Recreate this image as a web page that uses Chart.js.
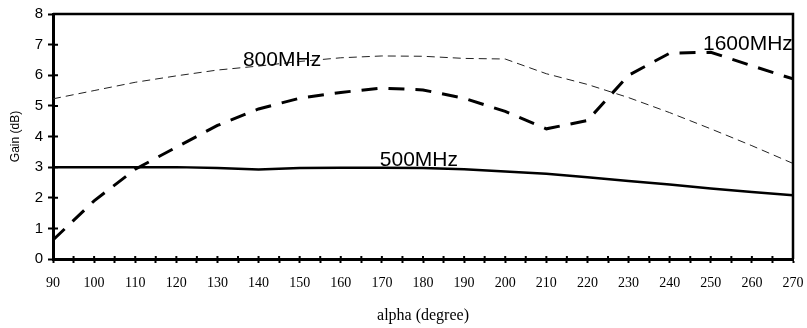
<!DOCTYPE html>
<html>
<head>
<meta charset="utf-8">
<script src="https://cdn.jsdelivr.net/npm/chart.js@4"></script>
<style>
  html, body { margin: 0; padding: 0; background: #fff; }
  #box { width: 807px; height: 328px; }
</style>
</head>
<body>
<div id="box"><canvas id="myChart"></canvas></div>
<script>
// angle en degrés
const angles = [90, 100, 110, 120, 130, 140, 150, 160, 170, 180, 190, 200, 210, 220, 230, 240, 250, 260, 270];

// gain (dB) pour chaque fréquence
const gain500 = [3.0, 3.0, 3.0, 3.0, 2.97, 2.92, 2.97, 2.98, 2.98, 2.97, 2.93, 2.86, 2.78, 2.67, 2.55, 2.43, 2.3, 2.19, 2.08];
const gain800 = [5.23, 5.5, 5.77, 5.98, 6.17, 6.3, 6.45, 6.57, 6.63, 6.62, 6.55, 6.53, 6.05, 5.7, 5.27, 4.78, 4.25, 3.7, 3.12];
const gain1600 = [0.62, 1.9, 2.93, 3.65, 4.36, 4.9, 5.25, 5.44, 5.58, 5.52, 5.25, 4.82, 4.25, 4.52, 6.0, 6.72, 6.75, 6.31, 5.88];

const seriesNames = ['500MHz', '800MHz', '1600MHz'];

// où écrire le nom de chaque courbe (angle, gain)
const nameSpots = [
    { text: '500MHz', x: 169.5, y: 3.22 },
    { text: '800MHz', x: 136.2, y: 6.5 },
    { text: '1600MHz', x: 248.1, y: 7.0 }
];

function points(values) {
    return angles.map((a, i) => ({ x: a, y: values[i] }));
}

// cadre haut/droite + petits traits de graduation vers l'intérieur
const cadre = {
    id: 'cadre',
    afterDraw(chart) {
        const { ctx, chartArea: a, scales } = chart;
        ctx.save();
        ctx.strokeStyle = '#000';
        ctx.lineWidth = 2.5;
        ctx.beginPath();
        ctx.moveTo(a.left, a.top);
        ctx.lineTo(a.right, a.top);
        ctx.lineTo(a.right, a.bottom);
        ctx.stroke();

        ctx.lineWidth = 2;
        ctx.beginPath();
        scales.y.ticks.forEach(t => {
            const py = scales.y.getPixelForValue(t.value);
            ctx.moveTo(a.left, py);
            ctx.lineTo(a.left + 5, py);
        });
        scales.x.ticks.forEach(t => {
            const px = scales.x.getPixelForValue(t.value);
            ctx.moveTo(px, a.bottom);
            ctx.lineTo(px, a.bottom - 3);
        });
        ctx.stroke();
        ctx.restore();
    }
};

// noms des courbes écrits sur le graphique
const nomsCourbes = {
    id: 'nomsCourbes',
    afterDatasetsDraw(chart) {
        const { ctx, scales } = chart;
        ctx.save();
        ctx.fillStyle = '#000';
        ctx.font = '21px "Liberation Sans", Arial, sans-serif';
        ctx.textAlign = 'left';
        ctx.textBaseline = 'middle';
        nameSpots.forEach(s => {
            ctx.fillText(s.text, scales.x.getPixelForValue(s.x), scales.y.getPixelForValue(s.y));
        });
        ctx.restore();
    }
};

const graph = document.getElementById('myChart');

const myChart = new Chart(graph, {
    type: 'line',
    data: {
        datasets: [{
            label: seriesNames[0],
            data: points(gain500),
            borderColor: '#000',
            borderWidth: 2.5,
            pointRadius: 0,
            tension: 0,
            fill: false
        }, {
            label: seriesNames[1],
            data: points(gain800),
            borderColor: '#222',
            borderWidth: 1,
            borderDash: [8, 5],
            pointRadius: 0,
            tension: 0,
            fill: false
        }, {
            label: seriesNames[2],
            data: points(gain1600),
            borderColor: '#000',
            borderWidth: 3,
            borderDash: [16, 11],
            pointRadius: 0,
            tension: 0,
            fill: false
        }]
    },
    options: {
        responsive: true,
        maintainAspectRatio: false,
        animation: false,
        layout: { padding: { top: 13, right: 14, left: 0, bottom: 0 } },
        plugins: {
            legend: { display: false },
            tooltip: { enabled: false }
        },
        scales: {
            x: {
                type: 'linear',
                min: 90,
                max: 270,
                ticks: {
                    stepSize: 5,
                    autoSkip: false,
                    maxRotation: 0,
                    callback: v => (v % 10 === 0 ? v : ''),
                    color: '#000',
                    padding: 12,
                    font: { family: '"Liberation Serif", "Times New Roman", serif', size: 14 }
                },
                grid: { drawOnChartArea: false, tickLength: 4, tickWidth: 2, tickColor: '#000' },
                border: { width: 3, color: '#000' },
                title: {
                    display: true,
                    text: 'alpha (degree)',
                    color: '#000',
                    padding: { top: 0, bottom: 3 },
                    font: { family: '"Liberation Serif", "Times New Roman", serif', size: 16 }
                },
                afterFit: s => {
                    s.height = 69;
                    // le "270" peut déborder dans la marge de droite
                    s.paddingLeft = 0;
                    s.paddingRight = 0;
                }
            },
            y: {
                min: 0,
                max: 8,
                ticks: {
                    stepSize: 1,
                    color: '#000',
                    padding: 5,
                    font: { family: '"Liberation Sans", Arial, sans-serif', size: 15 }
                },
                grid: { drawOnChartArea: false, tickLength: 5, tickWidth: 2, tickColor: '#000' },
                border: { width: 3, color: '#000' },
                title: {
                    display: true,
                    text: 'Gain (dB)',
                    color: '#000',
                    padding: { top: 8, bottom: 0 },
                    font: { family: '"Liberation Sans", Arial, sans-serif', size: 12 }
                },
                afterFit: s => { s.width = 53; }
            }
        }
    },
    plugins: [cadre, nomsCourbes]
});
</script>
</body>
</html>
